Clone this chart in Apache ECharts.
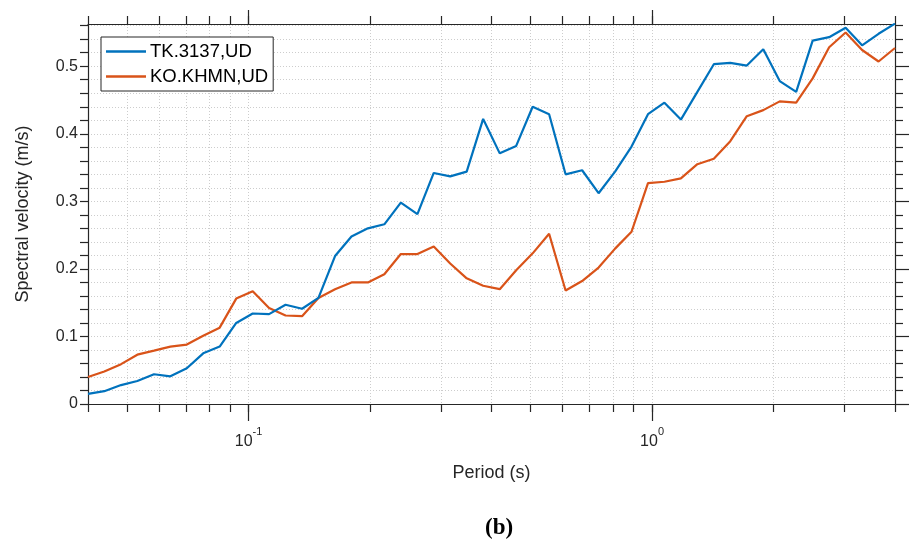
<!DOCTYPE html>
<html>
<head>
<meta charset="utf-8">
<script src="https://cdn.jsdelivr.net/npm/echarts@6/dist/echarts.min.js"></script>
<style>
  html, body { margin: 0; padding: 0; background: #fff; }
  #chart { width: 910px; height: 548px; }
</style>
</head>
<body>
<div id="chart"></div>
<script>
// Response spectra, vertical (UD) component, two stations
const periods = [
  0.0400, 0.0439, 0.0483, 0.0530, 0.0583, 0.0640, 0.0703, 0.0772, 0.0848, 0.0932,
  0.1024, 0.1124, 0.1235, 0.1357, 0.1490, 0.1638, 0.1799, 0.1976, 0.2170, 0.2384,
  0.2621, 0.2877, 0.3160, 0.3472, 0.3814, 0.4193, 0.4605, 0.5059, 0.5557, 0.6105,
  0.6709, 0.7370, 0.8097, 0.8894, 0.9770, 1.0731, 1.1788, 1.2949, 1.4225, 1.5626,
  1.7171, 1.8862, 2.0720, 2.2761, 2.5003, 2.7473, 3.0178, 3.3151, 3.6417, 4.0000
];
const tk3137 = [
  0.015, 0.019, 0.028, 0.034, 0.044, 0.041, 0.053, 0.075, 0.085, 0.120,
  0.134, 0.133, 0.147, 0.141, 0.157, 0.219, 0.248, 0.260, 0.266, 0.298,
  0.281, 0.342, 0.337, 0.344, 0.422, 0.371, 0.382, 0.440, 0.429, 0.340,
  0.346, 0.312, 0.344, 0.381, 0.429, 0.446, 0.421, 0.462, 0.503, 0.505,
  0.501, 0.525, 0.478, 0.462, 0.538, 0.543, 0.557, 0.531, 0.548, 0.563
];
const khmn = [
  0.040, 0.048, 0.059, 0.073, 0.079, 0.085, 0.088, 0.101, 0.113, 0.156,
  0.167, 0.142, 0.131, 0.130, 0.157, 0.170, 0.180, 0.180, 0.192, 0.222,
  0.222, 0.233, 0.208, 0.186, 0.175, 0.170, 0.198, 0.223, 0.252, 0.168,
  0.182, 0.202, 0.230, 0.255, 0.327, 0.329, 0.334, 0.355, 0.363, 0.389,
  0.426, 0.435, 0.448, 0.446, 0.482, 0.528, 0.550, 0.524, 0.507, 0.527
];
const seriesNames = ['TK.3137,UD', 'KO.KHMN,UD'];
const xMajorTicks = [0.1, 1];
const xMajorLabels = ['10^-1', '10^0'];
const xMinorTicks = [
  0.04, 0.05, 0.06, 0.07, 0.08, 0.09, 0.1,
  0.2, 0.3, 0.4, 0.5, 0.6, 0.7, 0.8, 0.9, 1,
  2, 3, 4
];
const yTicks = [0, 0.1, 0.2, 0.3, 0.4, 0.5];
const yTickLabels = ['0', '0.1', '0.2', '0.3', '0.4', '0.5'];

const ink = '#262626';
const gridColor = '#cdcdcd';
const font = 'Liberation Sans, Arial, sans-serif';
const xMin = 0.04, xMax = 4, yMax = 0.5625;

const pairs = (xs, ys) => xs.map((x, i) => [x, ys[i]]);

function xLabel(v) {
  const i = xMajorTicks.findIndex(t => Math.abs(t - v) < 1e-9);
  if (i < 0) return '';
  const [base, exp] = xMajorLabels[i].split('^');
  return '{b|' + base + '}{s|' + exp + '}';
}
function yLabel(v) {
  const i = yTicks.findIndex(t => Math.abs(t - v) < 1e-9);
  return i < 0 ? '' : yTickLabels[i];
}

function logAxis(pos, tickVals, len, withLine, extra) {
  return Object.assign({
    type: 'log', logBase: 10, min: xMin, max: xMax, position: pos,
    axisLine: { show: withLine, onZero: false, lineStyle: { color: ink, width: 1.2 } },
    axisTick: { show: true, inside: false, length: len, customValues: tickVals,
                lineStyle: { color: ink, width: 1.2 } },
    axisLabel: { show: false },
    splitLine: { show: false },
    minorTick: { show: false },
    minorSplitLine: { show: false }
  }, extra || {});
}

const chart = echarts.init(document.getElementById('chart'), null, { renderer: 'canvas' });
chart.setOption({
  animation: false,
  backgroundColor: '#fff',
  textStyle: { fontFamily: font },
  grid: { left: 88, right: 15, top: 24, bottom: 144, containLabel: false },
  title: {
    text: '(b)', left: 480, top: 512,
    textStyle: { fontFamily: 'Liberation Serif, Times New Roman, serif', fontWeight: 'bold',
                 fontSize: 23, color: '#000' }
  },
  legend: {
    orient: 'vertical', left: 101, top: 37,
    padding: [5, 5, 5, 5], itemGap: 6,
    itemWidth: 40, itemHeight: 2.5, icon: 'rect',
    backgroundColor: '#fff', borderColor: ink, borderWidth: 1,
    textStyle: { fontFamily: font, fontSize: 18.5, color: '#000', padding: [0, 0, 0, -1] },
    data: seriesNames
  },
  xAxis: [
    logAxis('bottom', xMinorTicks, 8, true, {
      name: 'Period (s)', nameLocation: 'middle', nameGap: 60,
      nameTextStyle: { fontFamily: font, fontSize: 18, color: ink },
      axisLabel: {
        show: true, customValues: xMajorTicks, margin: 22, color: ink,
        formatter: xLabel,
        rich: {
          b: { fontFamily: font, fontSize: 16, color: ink, lineHeight: 24, verticalAlign: 'bottom' },
          s: { fontFamily: font, fontSize: 11, color: ink, lineHeight: 12, verticalAlign: 'top' }
        }
      },
      splitLine: { show: true, lineStyle: { color: gridColor, type: [1, 2], width: 1 } }
    }),
    logAxis('bottom', xMajorTicks, 17, false),
    logAxis('top', xMinorTicks, 8, true),
    logAxis('top', xMajorTicks, 14, false)
  ],
  yAxis: [
    {
      type: 'value', min: 0, max: yMax, interval: 0.1, position: 'left',
      name: 'Spectral velocity (m/s)', nameLocation: 'middle', nameGap: 56,
      nameTextStyle: { fontFamily: font, fontSize: 18, color: ink },
      axisLine: { show: true, onZero: false, lineStyle: { color: ink, width: 1.2 } },
      axisTick: { show: true, inside: false, length: 8, customValues: yTicks,
                  lineStyle: { color: ink, width: 1.2 } },
      minorTick: { show: true, splitNumber: 5, length: 8, lineStyle: { color: ink, width: 1.2 } },
      axisLabel: { customValues: yTicks, formatter: yLabel, fontFamily: font, fontSize: 16,
                   color: ink, margin: 10 },
      splitLine: { show: true, lineStyle: { color: gridColor, type: [1, 2], width: 1 } },
      minorSplitLine: { show: true, lineStyle: { color: gridColor, type: [1, 2], width: 1 } }
    },
    {
      type: 'value', min: 0, max: yMax, interval: 0.1, position: 'right',
      axisLine: { show: true, onZero: false, lineStyle: { color: ink, width: 1.2 } },
      axisTick: { show: true, inside: false, length: 14, customValues: yTicks,
                  lineStyle: { color: ink, width: 1.2 } },
      minorTick: { show: true, splitNumber: 5, length: 8, lineStyle: { color: ink, width: 1.2 } },
      axisLabel: { show: false },
      splitLine: { show: false },
      minorSplitLine: { show: false }
    }
  ],
  series: [
    {
      name: seriesNames[0], type: 'line', xAxisIndex: 0, yAxisIndex: 0,
      data: pairs(periods, tk3137), showSymbol: false, symbol: 'none',
      color: '#0072BD', lineStyle: { width: 2.2, color: '#0072BD' }, z: 3
    },
    {
      name: seriesNames[1], type: 'line', xAxisIndex: 0, yAxisIndex: 0,
      data: pairs(periods, khmn), showSymbol: false, symbol: 'none',
      color: '#D95319', lineStyle: { width: 2.2, color: '#D95319' }, z: 2
    }
  ]
});
</script>
</body>
</html>
